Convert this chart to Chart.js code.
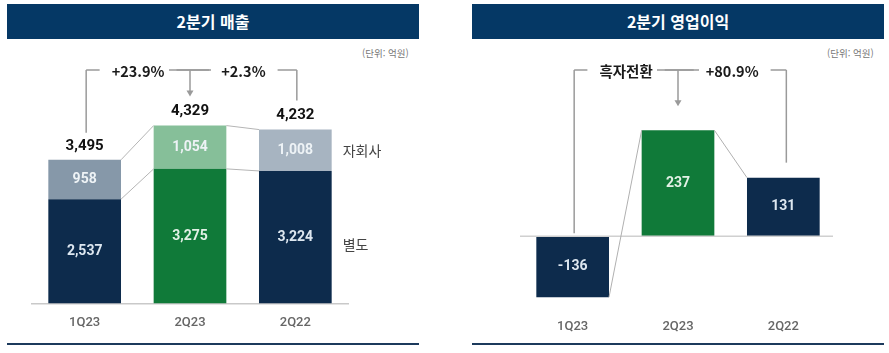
<!DOCTYPE html>
<html lang="ko">
<head>
<meta charset="utf-8">
<script src="https://cdn.jsdelivr.net/npm/chart.js@4.4.1/dist/chart.umd.min.js"></script>
<style>
  html, body { margin: 0; padding: 0; background: #fff; }
  body { width: 889px; height: 353px; position: relative; overflow: hidden;
         font-family: "Noto Sans CJK KR", "Noto Sans", sans-serif; }
  .title { position: absolute; top: 4px; height: 35px; width: 412px; background: #053865;
           color: #fff; font-weight: 700; font-size: 16px; line-height: 35px; text-align: center; }
  .unit { position: absolute; top: 46px; font-size: 9.5px; color: #777; }
  .foot { position: absolute; top: 343px; height: 2px; width: 412px; background: #1c3a5c; }
  canvas { position: absolute; top: 0; }
</style>
</head>
<body>
<div class="title" style="left:7px">2분기 매출</div>
<div class="title" style="left:472px">2분기 영업이익</div>
<div class="unit" style="left:362px">(단위: 억원)</div>
<div class="unit" style="left:827px">(단위: 억원)</div>
<div class="foot" style="left:7px"></div>
<div class="foot" style="left:472px"></div>
<div style="position:absolute;left:0;top:0;width:445px;height:353px"><canvas id="chart-sales"></canvas></div>
<div style="position:absolute;left:445px;top:0;width:444px;height:353px"><canvas id="chart-profit"></canvas></div>

<script>
// ============================================================
// DATA
// ============================================================
const quarters = ['1Q23', '2Q23', '2Q22'];
const salesParent = [2537, 3275, 3224];     // 별도
const salesSubsidiary = [958, 1054, 1008];  // 자회사
const salesGrowth = ['+23.9%', '+2.3%'];
const profitValues = [-136, 237, 131];
const profitGrowth = ['흑자전환', '+80.9%'];

const NAVY = '#0d2b4c';
const GREEN = '#107a39';
const NUM_FONT = 'Roboto, "Noto Sans", sans-serif';
const KR_FONT = '"Noto Sans CJK KR", "Noto Sans", sans-serif';

const fmt = v => v.toLocaleString('en-US');

// 브래킷 + 화살표 (성장률 표시)
function drawBracket(ctx, xs, bottoms, topY, labels) {
    ctx.save();
    ctx.strokeStyle = '#9a9a9a';
    ctx.fillStyle = '#9a9a9a';
    ctx.lineWidth = 1.5;
    ctx.font = 'bold 14.5px ' + KR_FONT;
    ctx.textAlign = 'center';
    ctx.textBaseline = 'middle';
    const gap = 12;
    // vertical legs
    [0, 2].forEach(i => {
        ctx.beginPath();
        ctx.moveTo(xs[i], topY);
        ctx.lineTo(xs[i], bottoms[i]);
        ctx.stroke();
    });
    // arrow
    ctx.beginPath();
    ctx.moveTo(xs[1], topY);
    ctx.lineTo(xs[1], bottoms[1] - 5);
    ctx.stroke();
    ctx.beginPath();
    ctx.moveTo(xs[1] - 3.5, bottoms[1] - 6);
    ctx.lineTo(xs[1] + 3.5, bottoms[1] - 6);
    ctx.lineTo(xs[1], bottoms[1]);
    ctx.closePath();
    ctx.fill();
    // horizontal segments with labels
    for (let k = 0; k < 2; k++) {
        const a = xs[k], b = xs[k + 1];
        const mid = (a + b) / 2;
        const w = ctx.measureText(labels[k]).width;
        ctx.beginPath();
        ctx.moveTo(k === 0 ? a : a - 21, topY);
        ctx.lineTo(mid - w / 2 - gap, topY);
        ctx.moveTo(mid + w / 2 + gap, topY);
        ctx.lineTo(k === 1 ? b : b + 21, topY);
        ctx.stroke();
        ctx.fillStyle = '#1a1a1a';
        ctx.fillText(labels[k], mid, topY + 1);
        ctx.fillStyle = '#9a9a9a';
    }
    ctx.restore();
}

function innerLabel(ctx, el, text, color) {
    ctx.fillStyle = color;
    ctx.font = 'bold 14px ' + NUM_FONT;
    ctx.textAlign = 'center';
    ctx.textBaseline = 'middle';
    ctx.fillText(text, el.x, (el.y + el.base) / 2);
}

const salesDecor = {
    id: 'salesDecor',
    afterDatasetsDraw(chart) {
        const ctx = chart.ctx;
        const bottom = chart.getDatasetMeta(0).data;
        const top = chart.getDatasetMeta(1).data;
        ctx.save();
        // connectors
        ctx.strokeStyle = '#b5b5b5';
        ctx.lineWidth = 1;
        for (let i = 0; i < 2; i++) {
            const a = top[i], b = top[i + 1];
            ctx.beginPath();
            ctx.moveTo(a.x + a.width / 2, a.y);
            ctx.lineTo(b.x - b.width / 2, b.y);
            ctx.moveTo(a.x + a.width / 2, a.base);
            ctx.lineTo(b.x - b.width / 2, b.base);
            ctx.stroke();
        }
        // values
        bottom.forEach((el, i) => innerLabel(ctx, el, fmt(salesParent[i]), i === 1 ? '#e2f1e6' : '#dde7f0'));
        top.forEach((el, i) => innerLabel(ctx, el, fmt(salesSubsidiary[i]), '#eef3f6'));
        // totals
        ctx.fillStyle = '#111';
        ctx.font = 'bold 15px ' + NUM_FONT;
        top.forEach((el, i) => ctx.fillText(fmt(salesParent[i] + salesSubsidiary[i]), el.x, el.y - 14));
        // series names
        ctx.fillStyle = '#444';
        ctx.font = '14px ' + KR_FONT;
        ctx.textAlign = 'left';
        const last = top.length - 1;
        ctx.fillText('자회사', top[last].x + top[last].width / 2 + 11, (top[last].y + top[last].base) / 2);
        ctx.fillText('별도', bottom[last].x + bottom[last].width / 2 + 11, (bottom[last].y + bottom[last].base) / 2 + 8);
        ctx.restore();
        const xs = top.map(el => el.x);
        drawBracket(ctx, [xs[0] + 1.5, xs[1], xs[2] + 1.5],
            [top[0].y - 27, top[1].y - 29, top[2].y - 29], 70, salesGrowth);
    }
};

const profitDecor = {
    id: 'profitDecor',
    afterDatasetsDraw(chart) {
        const ctx = chart.ctx;
        const bars = chart.getDatasetMeta(0).data;
        const area = chart.chartArea;
        const zero = chart.scales.y.getPixelForValue(0);
        ctx.save();
        // zero line
        ctx.strokeStyle = '#d0d0d0';
        ctx.lineWidth = 1.5;
        ctx.beginPath();
        ctx.moveTo(area.left, zero);
        ctx.lineTo(area.right - 3, zero);
        ctx.stroke();
        // connectors
        ctx.strokeStyle = '#b0b0b0';
        ctx.lineWidth = 1;
        for (let i = 0; i < 2; i++) {
            const a = bars[i], b = bars[i + 1];
            ctx.beginPath();
            ctx.moveTo(a.x + a.width / 2, a.y);
            ctx.lineTo(b.x - b.width / 2, b.y);
            ctx.stroke();
        }
        bars.forEach((el, i) => innerLabel(ctx, el, fmt(profitValues[i]), i === 1 ? '#e2f1e6' : '#dde7f0'));
        ctx.restore();
        drawBracket(ctx, [bars[0].x + 1.5, bars[1].x, bars[2].x + 3],
            [zero - 3, bars[1].y - 24, bars[2].y - 15], 70, profitGrowth);
    }
};

const xAxis = (padding, border) => ({
    grid: { display: false, drawTicks: false },
    border: { display: border, color: '#c9c9c9', width: 1.5 },
    ticks: { color: '#666', padding: padding, font: { family: NUM_FONT, size: 13, weight: '500' } }
});

new Chart(document.getElementById('chart-sales'), {
    type: 'bar',
    data: {
        labels: quarters,
        datasets: [
            { label: '별도', data: salesParent, backgroundColor: [NAVY, GREEN, NAVY] },
            { label: '자회사', data: salesSubsidiary, backgroundColor: ['#8698a9', '#86bf99', '#a7b4c1'] }
        ]
    },
    options: {
        responsive: true,
        maintainAspectRatio: false,
        animation: false,
        categoryPercentage: 1,
        barPercentage: 0.69,
        layout: { padding: { left: 32, right: 97, top: 98, bottom: 10 } },
        plugins: { legend: { display: false }, tooltip: { enabled: false } },
        scales: {
            x: { stacked: true, ...xAxis(12, true) },
            y: { stacked: true, display: false, min: 0, max: 5000 }
        }
    },
    plugins: [salesDecor]
});

new Chart(document.getElementById('chart-profit'), {
    type: 'bar',
    data: {
        labels: quarters,
        datasets: [{ label: '영업이익', data: profitValues, backgroundColor: [NAVY, GREEN, NAVY] }]
    },
    options: {
        responsive: true,
        maintainAspectRatio: false,
        animation: false,
        categoryPercentage: 1,
        barPercentage: 0.69,
        layout: { padding: { left: 75, right: 53, top: 102, bottom: 11 } },
        plugins: { legend: { display: false }, tooltip: { enabled: false } },
        scales: {
            x: xAxis(7, false),
            y: { display: false, min: -170, max: 300 }
        }
    },
    plugins: [profitDecor]
});
</script>
</body>
</html>
